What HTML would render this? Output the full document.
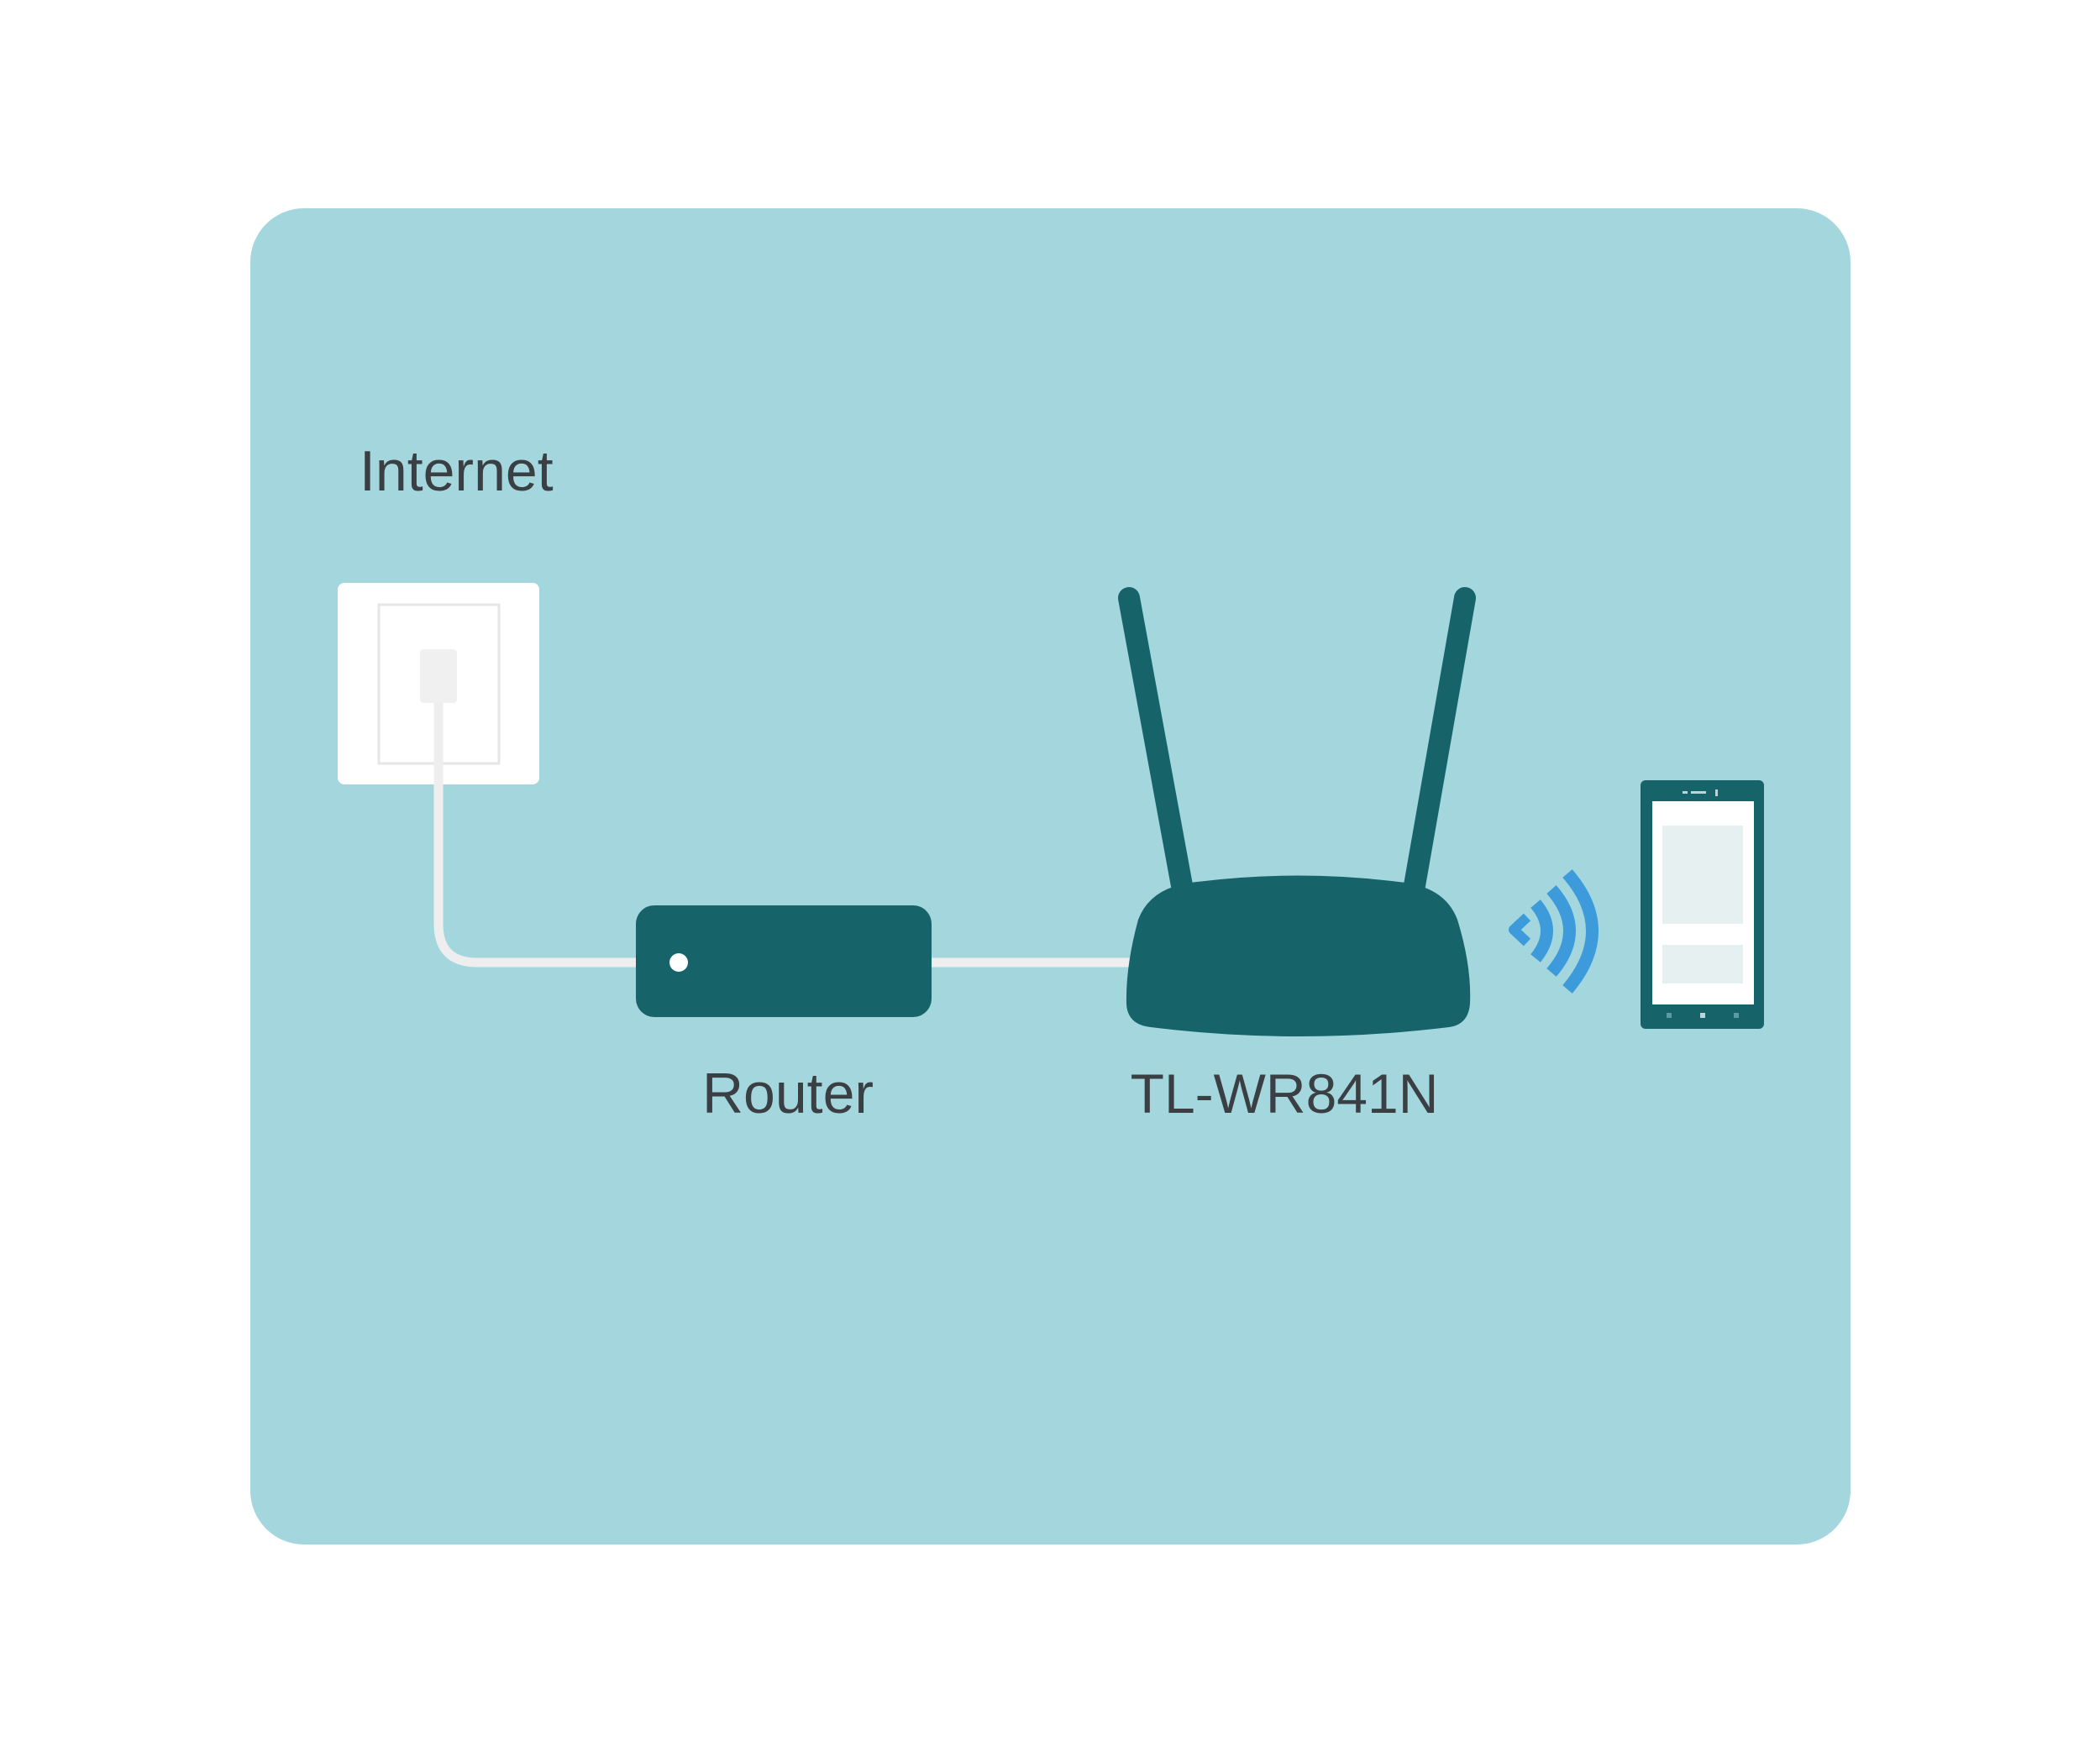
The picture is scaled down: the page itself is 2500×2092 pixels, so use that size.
<!DOCTYPE html>
<html><head><meta charset="utf-8"><style>
html,body{margin:0;padding:0;background:#fff;width:2500px;height:2092px;overflow:hidden}
svg{display:block}
text{font-family:"Liberation Sans",sans-serif;fill:#3a3f44}
</style></head><body>
<svg width="2500" height="2092" viewBox="0 0 2500 2092">
<rect x="298" y="248" width="1905" height="1591" rx="64" fill="#a3d7dd"/>
<text x="428" y="584" font-size="68">Internet</text>
<rect x="402" y="694" width="240" height="240" rx="8" fill="#fff"/>
<rect x="451" y="720" width="143" height="189" fill="none" stroke="#e6e6e6" stroke-width="3"/>
<path d="M522 820 V1100 Q522 1146 568 1146 H1345" fill="none" stroke="#eeeeee" stroke-width="11"/>
<rect x="500" y="773" width="44" height="64" rx="4" fill="#f0f0f0"/>
<rect x="757" y="1078" width="352" height="133" rx="22" fill="#17636a"/>
<circle cx="808" cy="1146" r="11" fill="#fff"/>
<text x="938" y="1325" font-size="68" text-anchor="middle">Router</text>
<line x1="1344" y1="712" x2="1408" y2="1060" stroke="#17636a" stroke-width="26" stroke-linecap="round"/>
<line x1="1744" y1="712" x2="1683" y2="1060" stroke="#17636a" stroke-width="26" stroke-linecap="round"/>
<path d="M1425 1050 Q1545 1035 1665 1050 Q1720 1055 1735 1095 Q1752 1150 1750 1195 Q1748 1220 1725 1223 Q1545 1245 1370 1223 Q1342 1220 1341 1195 Q1340 1150 1355 1095 Q1370 1055 1425 1050 Z" fill="#17636a"/>
<text x="1529" y="1325" font-size="66" text-anchor="middle">TL-WR841N</text>
<path d="M1818 1092 L1802 1107 L1818 1122" fill="none" stroke="#3d9bdb" stroke-width="12" stroke-linejoin="round"/>
<path d="M1828 1076 Q1855 1108 1828 1141" fill="none" stroke="#3d9bdb" stroke-width="15"/>
<path d="M1847 1059 Q1890 1108 1847 1158" fill="none" stroke="#3d9bdb" stroke-width="15"/>
<path d="M1866 1040 Q1925 1108 1866 1178" fill="none" stroke="#3d9bdb" stroke-width="15"/>
<rect x="1953" y="929" width="147" height="296" rx="6" fill="#17636a"/>
<rect x="1967" y="954" width="121" height="242" fill="#fff"/>
<rect x="1979" y="983" width="96" height="117" fill="#e6f0f1"/>
<rect x="1979" y="1125" width="96" height="46" fill="#e6f0f1"/>
<rect x="2013" y="942" width="18" height="3" fill="#b9d6d8"/>
<rect x="2003" y="942" width="6" height="3" fill="#b9d6d8"/>
<rect x="2042" y="940" width="3" height="8" fill="#b9d6d8"/>
<rect x="1984" y="1206" width="6" height="6" fill="#5b9aa0"/>
<rect x="2024" y="1206" width="6" height="6" fill="#b9d6d8"/>
<rect x="2064" y="1206" width="6" height="6" fill="#5b9aa0"/>
</svg>
</body></html>
